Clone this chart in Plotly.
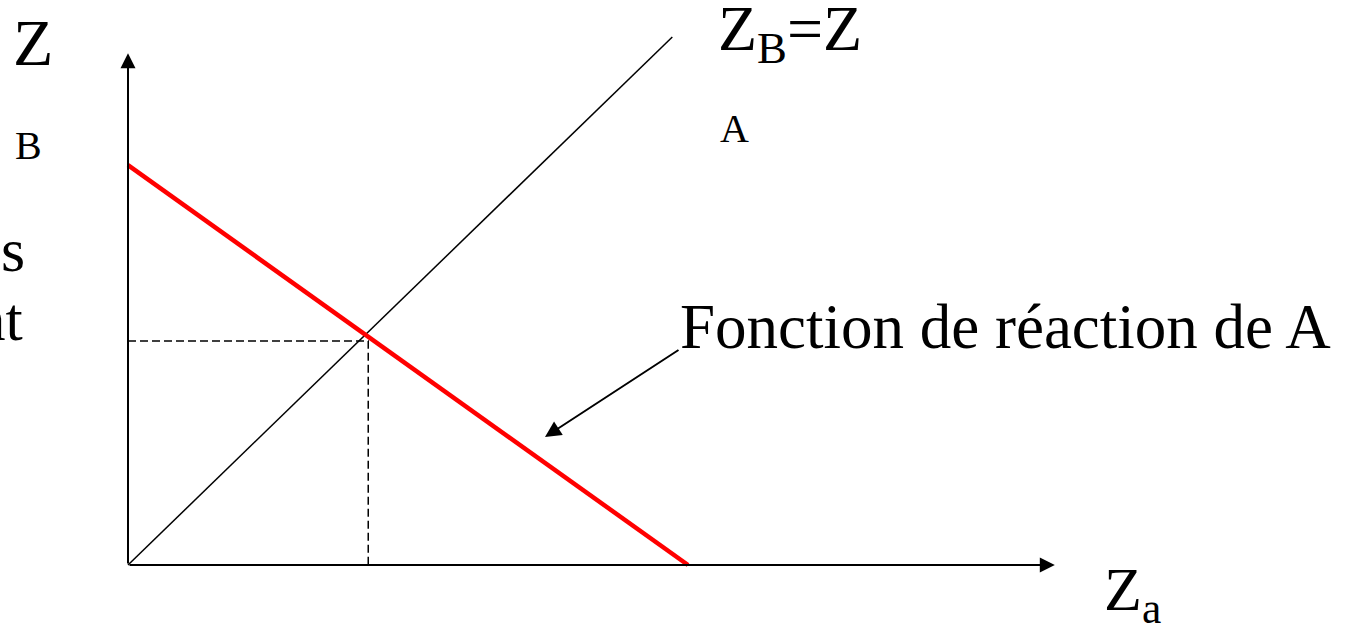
import plotly.graph_objects as go

# ---- data (in chart units; 1 unit = 56 px on screen) ----
reaction_x = [0.0, 10.0]          # Fonction de réaction de A
reaction_y = [7.14, 0.0]
diagonal_x = [0.0, 9.72]          # Z_B = Z_A
diagonal_y = [0.0, 9.43]
equilibrium_x = 4.29
equilibrium_y = 4.0
axis_x_end = 16.55
axis_y_end = 9.14

W, H = 1352, 627
ORIGIN_PX = (128, 565)
SCALE = 56.0

def dx(px):
    return (px - ORIGIN_PX[0]) / SCALE

def dy(py):
    return (ORIGIN_PX[1] - py) / SCALE

FONT = "'Liberation Serif', 'Times New Roman', Times, serif"

fig = go.Figure()

# equilibrium dashed guides
fig.add_trace(go.Scatter(x=[0, equilibrium_x, equilibrium_x], y=[equilibrium_y, equilibrium_y, 0],
                         mode="lines", line=dict(color="black", width=1.5, dash="8px,4px"),
                         hoverinfo="skip", showlegend=False))
# 45-degree line
fig.add_trace(go.Scatter(x=diagonal_x, y=diagonal_y, mode="lines",
                         line=dict(color="black", width=1.5), hoverinfo="skip", showlegend=False))
# reaction function
fig.add_trace(go.Scatter(x=reaction_x, y=reaction_y, mode="lines",
                         line=dict(color="#FF0000", width=4.5), hoverinfo="skip", showlegend=False))

annotations = []
# axes arrows
annotations.append(dict(x=axis_x_end, y=0, xref="x", yref="y", ax=0, ay=0, axref="x", ayref="y",
                        showarrow=True, arrowhead=2, arrowsize=1.5, arrowwidth=2, arrowcolor="black", text=""))
annotations.append(dict(x=0, y=axis_y_end, xref="x", yref="y", ax=0, ay=0, axref="x", ayref="y",
                        showarrow=True, arrowhead=2, arrowsize=1.5, arrowwidth=2, arrowcolor="black", text=""))
# pointer arrow from label to curve
annotations.append(dict(x=dx(545), y=dy(437), xref="x", yref="y", ax=dx(680), ay=dy(349), axref="x", ayref="y",
                        showarrow=True, arrowhead=2, arrowsize=1.6, arrowwidth=2, arrowcolor="black", text=""))

def label(text, px, py, size, xanchor="left"):
    annotations.append(dict(x=px / W, y=1 - py / H, xref="paper", yref="paper", text=text,
                            showarrow=False, xanchor=xanchor, yanchor="middle",
                            font=dict(family=FONT, size=size, color="black")))

label("Z", 11, 43, 66)
label("B", 13, 145, 40)
label("s", -1, 250, 62)
label("at", 25, 319, 62, xanchor="right")
label("Z<sub>B</sub>=Z", 716, 33, 64)
label("A", 718, 129, 40)
label("Fonction de réaction de A", 678, 327, 63)
label("Z<sub>a</sub>", 1102, 593, 62)

fig.update_layout(
    width=W, height=H,
    margin=dict(l=0, r=0, t=0, b=0),
    paper_bgcolor="white", plot_bgcolor="white",
    font=dict(family=FONT),
    xaxis=dict(range=[dx(0), dx(W)], visible=False, showgrid=False, zeroline=False),
    yaxis=dict(range=[dy(H), dy(0)], visible=False, showgrid=False, zeroline=False),
    annotations=annotations,
    showlegend=False,
)

fig.write_html("out.html", config={"displayModeBar": False},
               post_script="document.body.style.margin='0';document.body.style.overflow='hidden';")
